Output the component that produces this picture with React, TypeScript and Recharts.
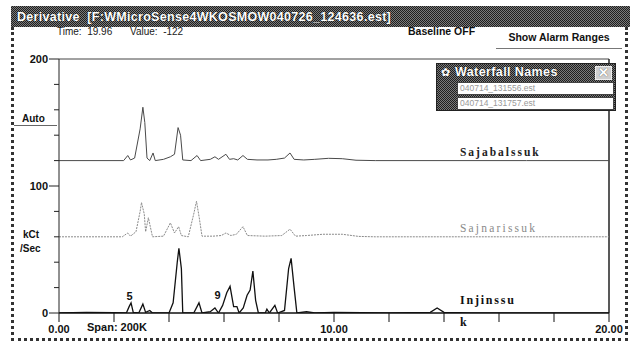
import React from 'react';
import { LineChart, Line, XAxis, YAxis, ReferenceLine, ReferenceDot } from 'recharts';

// axis ticks (min on x, kCt/Sec on y)
const X_TICKS = [0, 2, 4, 6, 8, 10, 12, 14, 16, 18, 20];
const X_LABELED = [0, 10, 20];
const Y_TICKS = [0, 20, 40, 60, 80, 100, 120, 140, 160, 180, 200];
const Y_LABELED = [0, 100, 200];

// waterfall offsets for each trace
const OFFSET_SAJABAL = 120;
const OFFSET_SAJNARI = 60;
const OFFSET_INJIN = 0;

// [time, signal], before the waterfall offset
const SAJABAL: [number, number][] = [
  [0, 0], [2.35, 0], [2.5, 4], [2.6, 0.5], [2.75, 2], [2.95, 25], [3.05, 42], [3.12, 30],
  [3.2, 2], [3.3, 0], [3.42, 6], [3.5, 0], [3.8, 1], [4.05, 3], [4.2, 5], [4.33, 26],
  [4.42, 20], [4.5, 0.5], [4.8, 0], [5.02, 4], [5.15, 0], [5.5, 1], [5.67, 3], [5.8, 1],
  [6.07, 5], [6.2, 1], [6.35, 1.5], [6.5, 0.5], [6.69, 4], [6.85, 1], [7.2, 0.5], [7.6, 0.5],
  [7.9, 1], [8.2, 2], [8.4, 6], [8.55, 1], [8.9, 0.5], [9.3, 1], [9.8, 1.8], [10.3, 1.5],
  [10.8, 0.3], [11.5, 0], [14, 0], [17, 0], [20, 0],
];

const SAJNARI: [number, number][] = [
  [0, 0], [2.3, 0], [2.5, 3], [2.6, 0.5], [2.8, 4], [2.95, 20], [3.0, 27], [3.1, 18],
  [3.15, 4], [3.25, 15], [3.32, 8], [3.4, 0], [3.8, 0.5], [4.05, 11], [4.2, 3], [4.35, 8],
  [4.45, 1], [4.7, 0], [4.9, 18], [5.0, 28], [5.1, 15], [5.2, 0.5], [5.6, 0.5], [5.9, 1],
  [6.07, 3], [6.25, 1], [6.45, 2], [6.69, 8], [6.85, 1], [7.5, 0.5], [8.1, 1], [8.4, 6],
  [8.6, 0.5], [9.0, 1], [9.6, 2], [10.3, 2], [10.9, 0.3], [11.5, 0], [14, 0], [17, 0], [20, 0],
];

const INJIN: [number, number][] = [
  [0, 0], [1, 0.5], [2, 0.3], [2.45, 0], [2.55, 5], [2.62, 8], [2.7, 0.5], [2.9, 0],
  [3.05, 7], [3.15, 0.5], [3.3, 2], [3.4, 0], [4.0, 0], [4.15, 8], [4.3, 40], [4.36, 51],
  [4.45, 35], [4.5, 0], [4.9, 0], [5.09, 8], [5.2, 0], [5.5, 1], [5.67, 4], [5.8, 0],
  [5.95, 6], [6.1, 16], [6.22, 21], [6.35, 5], [6.47, 5], [6.55, 0], [6.7, 4], [6.84, 14],
  [6.95, 18], [7.05, 33], [7.15, 10], [7.25, 0], [7.5, 0], [7.56, 3], [7.65, 0], [7.85, 6],
  [7.95, 0], [8.2, 2], [8.35, 35], [8.44, 43], [8.55, 20], [8.65, 0], [9.0, 1], [9.3, 0],
  [10.0, 0.5], [12, 0], [13.5, 0.5], [13.75, 4], [14.0, 0.5], [15, 0], [20, 0],
];

const WATERFALL_FILES = ['040714_131556.est', '040714_131757.est'];

const toRows = (pts: [number, number][], off: number) => pts.map(([t, v]) => ({ t, v: v + off }));

const SANS = '"Liberation Sans", Arial, sans-serif';
const SERIF = '"Liberation Serif", "Times New Roman", serif';
const dither = 'repeating-conic-gradient(#1e1e1e 0% 25%, #7a7a7a 0% 50%) 0 0 / 2px 2px';

const XTick = (props: any) => {
  const { x, y, payload } = props;
  const lab = X_LABELED.includes(payload.value);
  return (
    <g>
      <line x1={x} y1={y} x2={x} y2={y + 9} stroke="#111" strokeWidth={1} />
      {lab && (
        <text x={x} y={y + 20} textAnchor="middle" fontFamily={SANS} fontWeight="bold" fontSize={11} fill="#111">
          {payload.value.toFixed(2)}
        </text>
      )}
    </g>
  );
};

const YTick = (props: any) => {
  const { x, y, payload } = props;
  const lab = Y_LABELED.includes(payload.value);
  return (
    <g>
      <line x1={x - (lab ? 10 : 5)} y1={y} x2={x} y2={y} stroke="#222" strokeWidth={1} />
      {lab && (
        <text x={x - 11} y={y + 4} textAnchor="end" fontFamily={SANS} fontWeight="bold" fontSize={11} fill="#111">
          {payload.value}
        </text>
      )}
    </g>
  );
};

const textAt = (text: string, style: any) => (p: any) => (
  <text x={p.viewBox.x + p.viewBox.width / 2} y={p.viewBox.y + p.viewBox.height / 2 + 4} {...style}>
    {text}
  </text>
);

const App = () => {
  return (
    <div style={{ position: 'absolute', left: 0, top: 0, width: 630, height: 343, background: '#fff', overflow: 'hidden' }}>
      <LineChart width={630} height={343} margin={{ top: 59, right: 21, left: 0, bottom: 0 }}>
        <XAxis
          dataKey="t"
          type="number"
          domain={[0, 20]}
          ticks={X_TICKS}
          height={30}
          tickSize={0}
          tickMargin={0}
          tick={<XTick />}
          axisLine={{ stroke: '#111', strokeWidth: 1.5 }}
          allowDataOverflow
        />
        <YAxis
          type="number"
          domain={[0, 200]}
          ticks={Y_TICKS}
          width={59}
          tickSize={0}
          tickMargin={0}
          tick={<YTick />}
          axisLine={{ stroke: '#222', strokeWidth: 1 }}
          allowDataOverflow
        />
        <ReferenceLine y={200} stroke="#444" strokeWidth={1} />
        <ReferenceLine x={20} stroke="#222" strokeWidth={1.5} />
        <Line data={toRows(SAJNARI, OFFSET_SAJNARI)} dataKey="v" type="linear" stroke="#8a8a8a" strokeWidth={1} strokeDasharray="2 1" dot={false} isAnimationActive={false} />
        <Line data={toRows(SAJABAL, OFFSET_SAJABAL)} dataKey="v" type="linear" stroke="#4a4a4a" strokeWidth={1} dot={false} isAnimationActive={false} />
        <Line data={toRows(INJIN, OFFSET_INJIN)} dataKey="v" type="linear" stroke="#111" strokeWidth={1.3} dot={false} isAnimationActive={false} />
        <ReferenceDot x={14.58} y={127} r={0.5} fill="none" stroke="none" ifOverflow="visible"
          label={textAt('Sajabalssuk', { fontFamily: SERIF, fontWeight: 'bold', fontSize: 11.5, letterSpacing: 2, fill: '#222' })} />
        <ReferenceDot x={14.58} y={67} r={0.5} fill="none" stroke="none" ifOverflow="visible"
          label={textAt('Sajnarissuk', { fontFamily: SERIF, fontSize: 11.5, letterSpacing: 2.2, fill: '#8a8a8a' })} />
        <ReferenceDot x={14.58} y={10} r={0.5} fill="none" stroke="none" ifOverflow="visible"
          label={textAt('Injinssu', { fontFamily: SERIF, fontWeight: 'bold', fontSize: 12, letterSpacing: 1.8, fill: '#111' })} />
        <ReferenceDot x={14.58} y={-7} r={0.5} fill="none" stroke="none" ifOverflow="visible"
          label={textAt('k', { fontFamily: SERIF, fontWeight: 'bold', fontSize: 12, fill: '#111' })} />
        <ReferenceDot x={2.45} y={13} r={0.5} fill="none" stroke="none" ifOverflow="visible"
          label={textAt('5', { fontFamily: SANS, fontWeight: 'bold', fontSize: 11, fill: '#111' })} />
        <ReferenceDot x={5.65} y={14} r={0.5} fill="none" stroke="none" ifOverflow="visible"
          label={textAt('9', { fontFamily: SANS, fontWeight: 'bold', fontSize: 11, fill: '#111' })} />
      </LineChart>

      {/* window title bar */}
      <div style={{ position: 'absolute', left: 11, top: 6, width: 619, height: 21, background: dither }} />
      <div style={{ position: 'absolute', left: 17, top: 10, color: '#fff', fontFamily: SANS, fontWeight: 'bold', fontSize: 12.5, letterSpacing: 0.3, whiteSpace: 'nowrap', textShadow: '0 0 1px #000' }}>
        Derivative&nbsp; [F:WMicroSense4WKOSMOW040726_124636.est]
      </div>

      {/* window frame */}
      <div style={{ position: 'absolute', left: 11, top: 27, width: 611, height: 311, borderLeft: '3px dotted #333', borderRight: '3px dotted #333', borderBottom: '3px dotted #333' }} />

      {/* status line */}
      <div style={{ position: 'absolute', left: 57, top: 26, fontFamily: SANS, fontSize: 10, color: '#222', whiteSpace: 'nowrap' }}>Time:&nbsp; 19.96</div>
      <div style={{ position: 'absolute', left: 130, top: 26, fontFamily: SANS, fontSize: 10, color: '#222', whiteSpace: 'nowrap' }}>Value:&nbsp; -122</div>
      <div style={{ position: 'absolute', left: 408, top: 25, fontFamily: SANS, fontWeight: 'bold', fontSize: 10.5, color: '#111', whiteSpace: 'nowrap' }}>Baseline OFF</div>
      <div style={{ position: 'absolute', left: 496, top: 31, width: 126, height: 17, borderBottom: '1.5px solid #777', fontFamily: SANS, fontWeight: 'bold', fontSize: 10.5, color: '#111', whiteSpace: 'nowrap', textAlign: 'center' }}>Show Alarm Ranges</div>

      {/* left side labels */}
      <div style={{ position: 'absolute', left: 22, top: 113, fontFamily: SANS, fontWeight: 'bold', fontSize: 10, color: '#111' }}>Auto</div>
      <div style={{ position: 'absolute', left: 14, top: 125, width: 43, height: 1, background: '#666' }} />
      <div style={{ position: 'absolute', left: 23, top: 229, fontFamily: SANS, fontWeight: 'bold', fontSize: 10, color: '#111' }}>kCt</div>
      <div style={{ position: 'absolute', left: 20, top: 243, fontFamily: SANS, fontWeight: 'bold', fontSize: 10, color: '#111' }}>/Sec</div>
      <div style={{ position: 'absolute', left: 87, top: 321, fontFamily: SANS, fontWeight: 'bold', fontSize: 11, color: '#111', whiteSpace: 'nowrap' }}>Span: 200K</div>

      {/* Waterfall Names popup */}
      <div style={{ position: 'absolute', left: 436, top: 63, width: 180, height: 48, background: dither, border: '1px solid #222', boxSizing: 'border-box' }}>
        <div style={{ position: 'absolute', left: 4, top: 2, color: '#fff', fontFamily: SANS, fontSize: 11 }}>✿</div>
        <div style={{ position: 'absolute', left: 18, top: 1, color: '#fff', fontFamily: SANS, fontWeight: 'bold', fontSize: 12.5, letterSpacing: 0.4, whiteSpace: 'nowrap', textShadow: '0 0 1px #000' }}>Waterfall Names</div>
        <div style={{ position: 'absolute', right: 3, top: 2, width: 17, height: 14, background: '#cfcfcf', border: '1px solid #eee', boxSizing: 'border-box', color: '#fff', fontFamily: SANS, fontWeight: 'bold', fontSize: 13, lineHeight: '12px', textAlign: 'center', textShadow: '0 0 1px #333' }}>✕</div>
        {WATERFALL_FILES.map((f, i) => (
          <div key={f} style={{ position: 'absolute', left: 20, top: 18 + i * 15, width: 157, height: 13, background: '#fff', border: '1px solid #444', boxSizing: 'border-box', fontFamily: SANS, fontSize: 8.5, color: '#999', lineHeight: '11px', paddingLeft: 2, whiteSpace: 'nowrap' }}>{f}</div>
        ))}
      </div>
    </div>
  );
};

export default App;
